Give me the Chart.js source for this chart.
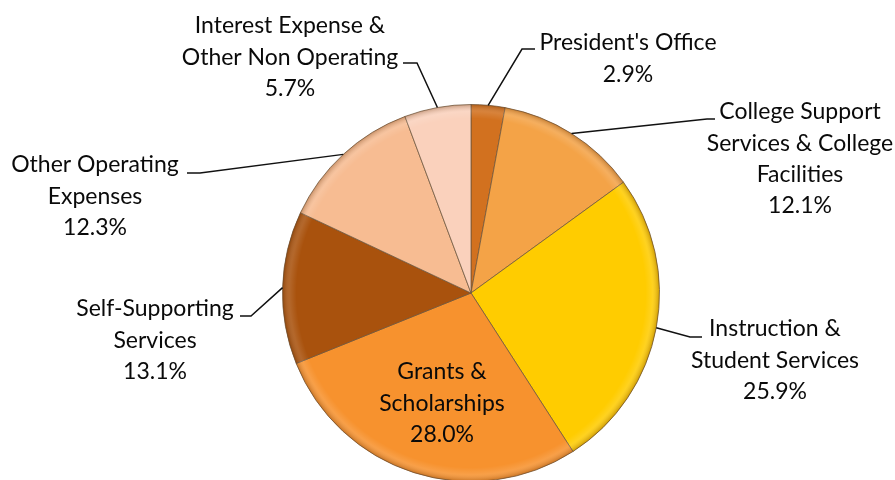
<!DOCTYPE html>
<html>
<head>
<meta charset="utf-8">
<script src="https://cdn.jsdelivr.net/npm/chart.js@4.4.1/dist/chart.umd.min.js"></script>
<style>
  html, body { margin: 0; padding: 0; background: #fff; overflow: hidden; width: 895px; height: 480px; }
  #wrap { width: 895px; height: 500px; }
</style>
</head>
<body>
<div id="wrap"><canvas id="pieChart" width="895" height="500"></canvas></div>
<script>
// data
const categories = [
    ["President's Office"],
    ["College Support", "Services & College", "Facilities"],
    ["Instruction &", "Student Services"],
    ["Grants &", "Scholarships"],
    ["Self-Supporting", "Services"],
    ["Other Operating", "Expenses"],
    ["Interest Expense &", "Other Non Operating"]
];
const shares = [2.9, 12.1, 25.9, 28.0, 13.1, 12.3, 5.7];
const colors = ['#D2711F', '#F4A347', '#FFCC00', '#F7922E', '#A9520D', '#F7BC92', '#FAD1BC'];

// where each label sits (text centre x, first line y) and its leader elbow / end
const labelLayout = [
    { x: 628, y: 43, elbow: [522, 49], end: [535, 49] },
    { x: 800, y: 112, elbow: [707, 119], end: [715, 119] },
    { x: 775, y: 329, elbow: [690, 337], end: [702, 337] },
    { x: 442, y: 372 },
    { x: 155, y: 309, elbow: [251, 316], end: [240, 316] },
    { x: 95, y: 165, elbow: [200, 173], end: [187, 173] },
    { x: 290, y: 26, elbow: [417, 63], end: [403, 63] }
];
const lineGap = 31.3;

const bevel = {
    id: 'bevel',
    afterDatasetsDraw(chart) {
        const ctx = chart.ctx;
        const meta = chart.getDatasetMeta(0);
        meta.data.forEach(arc => {
            const r = arc.outerRadius;
            ctx.save();
            ctx.beginPath();
            ctx.moveTo(arc.x, arc.y);
            ctx.arc(arc.x, arc.y, r, arc.startAngle, arc.endAngle);
            ctx.closePath();
            ctx.clip();
            const g = ctx.createRadialGradient(arc.x, arc.y, r - 14, arc.x, arc.y, r);
            g.addColorStop(0, 'rgba(255,255,255,0)');
            g.addColorStop(0.5, 'rgba(255,255,255,0.12)');
            g.addColorStop(1, 'rgba(90,40,0,0.30)');
            ctx.fillStyle = g;
            ctx.fillRect(arc.x - r, arc.y - r, r * 2, r * 2);
            ctx.restore();
        });
    }
};

const pieLabels = {
    id: 'pieLabels',
    afterDraw(chart) {
        const ctx = chart.ctx;
        const meta = chart.getDatasetMeta(0);
        ctx.save();
        ctx.font = '23px Lato';
        ctx.fillStyle = '#0a0a0a';
        ctx.textAlign = 'center';
        ctx.textBaseline = 'middle';
        meta.data.forEach((arc, i) => {
            const lay = labelLayout[i];
            const lines = categories[i].concat([shares[i].toFixed(1) + '%']);
            lines.forEach((t, k) => ctx.fillText(t, lay.x, lay.y + k * lineGap));
            if (lay.elbow) {
                const mid = (arc.startAngle + arc.endAngle) / 2;
                const sx = arc.x + Math.cos(mid) * arc.outerRadius;
                const sy = arc.y + Math.sin(mid) * arc.outerRadius;
                ctx.beginPath();
                ctx.strokeStyle = '#111';
                ctx.lineWidth = 1.5;
                ctx.moveTo(sx, sy);
                ctx.lineTo(lay.elbow[0], lay.elbow[1]);
                ctx.lineTo(lay.end[0], lay.end[1]);
                ctx.stroke();
            }
        });
        ctx.restore();
    }
};

const ctx = document.getElementById('pieChart').getContext('2d');
const chart = new Chart(ctx, {
    type: 'pie',
    data: {
        labels: categories.map(c => c.join(' ')),
        datasets: [{
            data: shares,
            backgroundColor: colors,
            borderColor: 'rgba(110,85,60,0.75)',
            borderWidth: 1
        }]
    },
    options: {
        responsive: false,
        animation: false,
        layout: { padding: { top: 104, bottom: 18, left: 282, right: 235 } },
        plugins: {
            legend: { display: false },
            tooltip: { enabled: false }
        }
    },
    plugins: [bevel, pieLabels]
});
</script>
</body>
</html>
